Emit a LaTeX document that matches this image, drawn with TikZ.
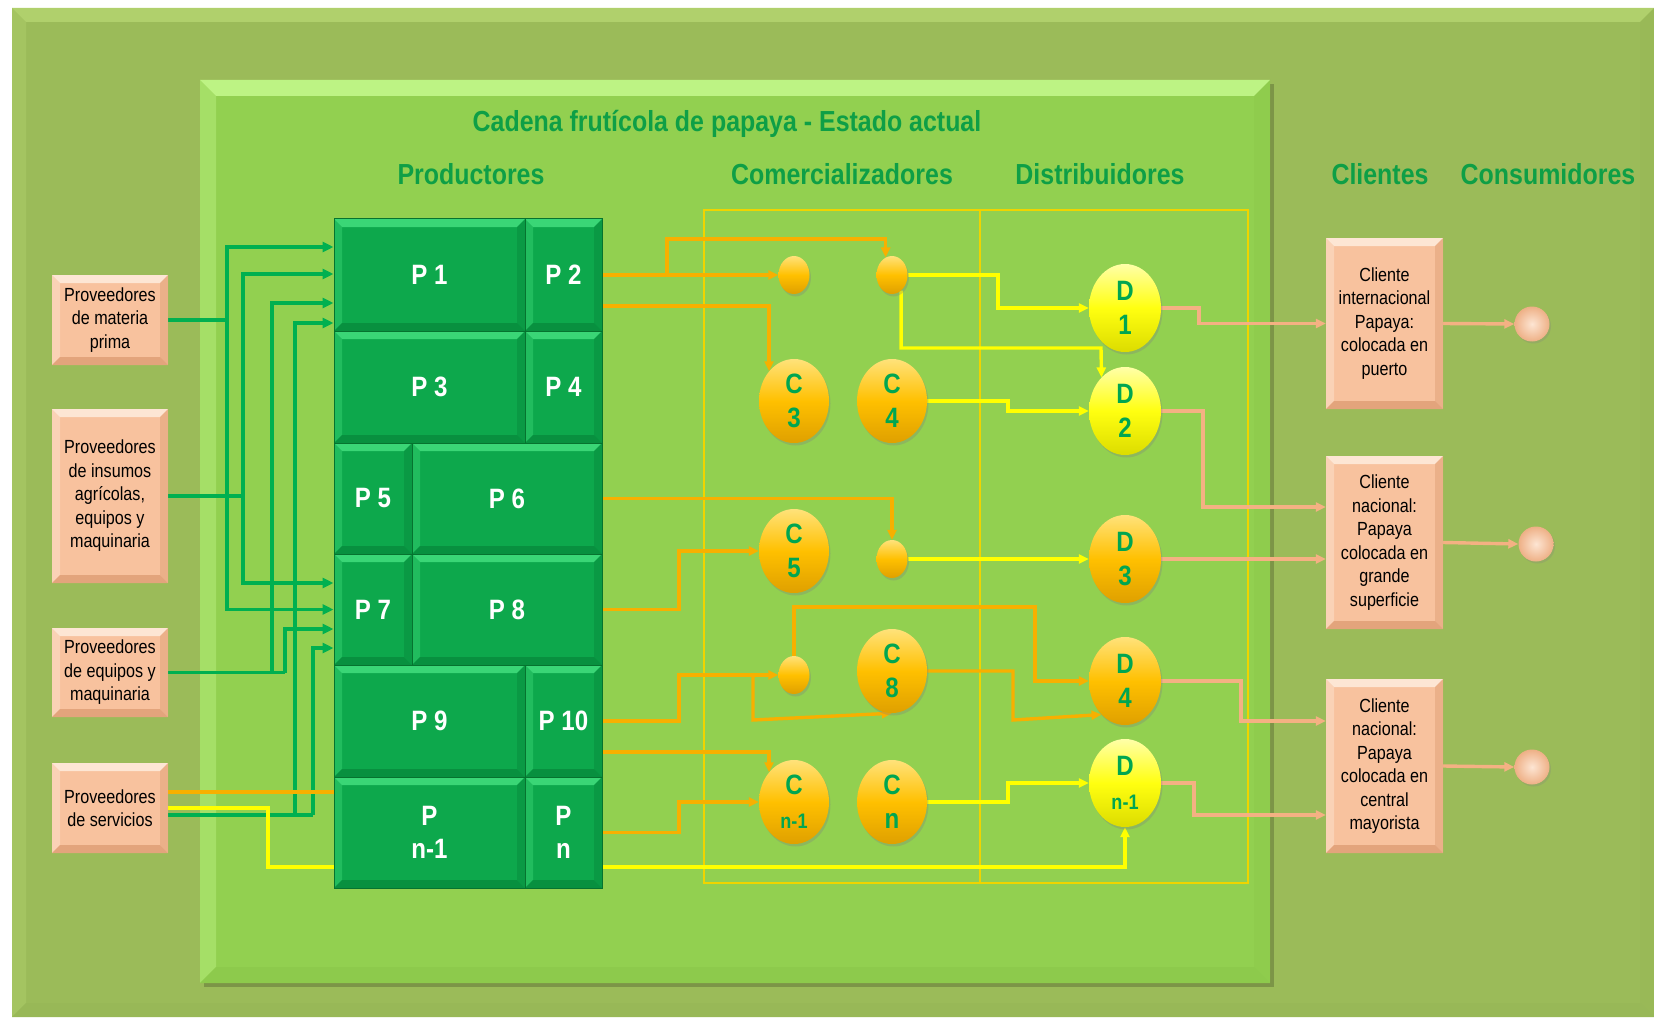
\documentclass[tikz,border=0pt]{standalone}
\usepackage{fontspec}
\setmainfont{Liberation Sans}
\newfontfamily\hfont[FakeStretch=0.86]{Liberation Sans}
\newfontfamily\bfont[FakeStretch=0.85]{Liberation Sans}
\usetikzlibrary{arrows.meta,shapes.geometric,shadows}
\definecolor{outerg}{HTML}{9BBB59}
\definecolor{outerlight}{HTML}{B0D06C}
\definecolor{outerdark}{HTML}{98B857}
\definecolor{innerg}{HTML}{92D050}
\definecolor{innerlight}{HTML}{BDF384}
\definecolor{innerdark}{HTML}{8DCA4C}
\definecolor{pgreen}{HTML}{0DA84C}
\definecolor{plight}{HTML}{3AD676}
\definecolor{pshade}{HTML}{08903F}
\definecolor{pdark}{HTML}{06732F}
\definecolor{salmon}{HTML}{F8C29E}
\definecolor{salmonlight}{HTML}{FDE6D4}
\definecolor{salmondark}{HTML}{E3A47C}
\definecolor{gold1}{HTML}{FFE27A}
\definecolor{gold2}{HTML}{FFC000}
\definecolor{gold3}{HTML}{DFA000}
\definecolor{yel1}{HTML}{FFFFA8}
\definecolor{yel2}{HTML}{FFFF10}
\definecolor{yel3}{HTML}{DCDC00}
\definecolor{headg}{HTML}{0E9F46}
\definecolor{labg}{HTML}{00A651}
\definecolor{wgreen}{HTML}{00B050}
\definecolor{worange}{HTML}{F7B000}
\definecolor{wyellow}{HTML}{FFFF00}
\definecolor{wpink}{HTML}{F4B183}
\definecolor{colbox}{HTML}{F0D400}
\definecolor{sph1}{HTML}{FDE5D3}
\definecolor{sph2}{HTML}{EEB086}
\pgfdeclarelayer{bg}
\pgfdeclarelayer{wires}
\pgfsetlayers{bg,wires,main}
\tikzset{
  bevel/.style n args={3}{path picture={
    \fill[#2] (path picture bounding box.north west) -- (path picture bounding box.north east)
      -- ([xshift=-#1,yshift=-#1]path picture bounding box.north east)
      -- ([xshift=#1,yshift=-#1]path picture bounding box.north west) -- cycle;
    \fill[#2,opacity=.45] (path picture bounding box.north west)
      -- ([xshift=#1,yshift=-#1]path picture bounding box.north west)
      -- ([xshift=#1,yshift=#1]path picture bounding box.south west)
      -- (path picture bounding box.south west) -- cycle;
    \fill[#3] (path picture bounding box.south west) -- (path picture bounding box.south east)
      -- ([xshift=-#1,yshift=#1]path picture bounding box.south east)
      -- ([xshift=#1,yshift=#1]path picture bounding box.south west) -- cycle;
    \fill[#3,opacity=.6] (path picture bounding box.north east)
      -- ([xshift=-#1,yshift=-#1]path picture bounding box.north east)
      -- ([xshift=-#1,yshift=#1]path picture bounding box.south east)
      -- (path picture bounding box.south east) -- cycle;
  }},
  pcell/.style={rectangle, inner sep=0pt, fill=pgreen, draw=pdark, line width=1pt,
    bevel={8pt}{plight}{pshade}, text=white, align=center,
    font=\hfont\bfseries\fontsize{28}{33}\selectfont},
  sbox/.style={rectangle, inner sep=0pt, fill=salmon, bevel={8pt}{salmonlight}{salmondark},
    text=black, align=center, font=\bfont\fontsize{19}{23.5}\selectfont},
  ellbase/.style={ellipse, inner sep=0pt,
    drop shadow={shadow xshift=1.5pt,shadow yshift=-2.5pt,opacity=.3},
    align=center, text=labg, font=\hfont\bfseries\fontsize{28}{34}\selectfont},
  goldell/.style={ellbase, top color=gold1, bottom color=gold3, middle color=gold2},
  yelell/.style={ellbase, top color=yel1, bottom color=yel3, middle color=yel2},
  cbig/.style={goldell, minimum width=70pt, minimum height=84pt},
  csmall/.style={goldell, minimum width=31pt, minimum height=38pt},
  dnode/.style={minimum width=72pt, minimum height=88pt},
  sphere/.style={circle, inner sep=0pt, minimum size=35pt, inner color=sph1, outer color=sph2,
    drop shadow={shadow xshift=1.5pt,shadow yshift=-2pt,opacity=.25}},
  head/.style={text=headg, font=\hfont\bfseries\fontsize{29}{34}\selectfont, inner sep=0pt},
  gw/.style={draw=wgreen, line width=3.6pt, -{Triangle[length=11pt,width=10pt]}},
  gline/.style={draw=wgreen, line width=3.6pt},
  ow/.style={draw=worange, line width=3.4pt, -{Triangle[length=10pt,width=9pt]}},
  oline/.style={draw=worange, line width=3.4pt},
  yw/.style={draw=wyellow, line width=3.4pt, -{Triangle[length=10pt,width=9pt]}},
  kw/.style={draw=wpink, line width=3.4pt, -{Triangle[length=10pt,width=9pt]}},
}
\begin{document}
\begin{tikzpicture}[x=1pt,y=-1pt]
\useasboundingbox (0,0) rectangle (1654,1019);
\begin{pgfonlayer}{bg}
  \fill[white] (0,0) rectangle (1654,1019);
  \path[fill=outerg, bevel={14pt}{outerlight}{outerdark}] (12,8) rectangle (1654,1017);
  \fill[black,opacity=.2] (204,84) rectangle (1274,987);
  \path[fill=innerg, bevel={16pt}{innerlight}{innerdark}] (200,80) rectangle (1270,983);
\end{pgfonlayer}

% headers
\node[head, anchor=base] (title) at (727,132) {Cadena frutícola de papaya - Estado actual};
\node[head, anchor=base] (hProd) at (471,185) {Productores};
\node[head, anchor=base] (hCom) at (842,185) {Comercializadores};
\node[head, anchor=base] (hDis) at (1100,185) {Distribuidores};
\node[head, anchor=base] (hCli) at (1380,185) {Clientes};
\node[head, anchor=base] (hCon) at (1548,185) {Consumidores};

% suppliers
\node[sbox, minimum width=116pt, minimum height=90pt] (Mat) at (110,320) {Proveedores\\de materia\\prima};
\node[sbox, minimum width=116pt, minimum height=174pt] (Ins) at (110,496) {Proveedores\\de insumos\\agrícolas,\\equipos y\\maquinaria};
\node[sbox, minimum width=116pt, minimum height=89pt] (Equ) at (110,672.5) {Proveedores\\de equipos y\\maquinaria};
\node[sbox, minimum width=116pt, minimum height=90pt] (Serv) at (110,808) {Proveedores\\de servicios};

% producers
\node[pcell, minimum width=191pt, minimum height=112pt] (P1) at (429.5,275) {P 1};
\node[pcell, minimum width=77pt, minimum height=112pt] (P2) at (563.5,275) {P 2};
\node[pcell, minimum width=191pt, minimum height=112pt] (P3) at (429.5,387) {P 3};
\node[pcell, minimum width=77pt, minimum height=112pt] (P4) at (563.5,387) {P 4};
\node[pcell, minimum width=78pt, minimum height=111pt] (P5) at (373,498.5) {P 5};
\node[pcell, minimum width=190pt, minimum height=111pt] (P6) at (507,498.5) {P 6};
\node[pcell, minimum width=78pt, minimum height=111pt] (P7) at (373,609.5) {P 7};
\node[pcell, minimum width=190pt, minimum height=111pt] (P8) at (507,609.5) {P 8};
\node[pcell, minimum width=191pt, minimum height=112pt] (P9) at (429.5,721) {P 9};
\node[pcell, minimum width=77pt, minimum height=112pt] (P10) at (563.5,721) {P 10};
\node[pcell, minimum width=191pt, minimum height=111pt] (Pn1) at (429.5,832.5) {P\\n-1};
\node[pcell, minimum width=77pt, minimum height=111pt] (Pn) at (563.5,832.5) {P\\n};

% commercializers
\node[csmall] (e1) at (794,275) {};
\node[csmall] (e2) at (892,275) {};
\node[cbig] (C3) at (794,401) {C\\3};
\node[cbig] (C4) at (892,401) {C\\4};
\node[cbig] (C5) at (794,551) {C\\5};
\node[csmall] (e3) at (892,559) {};
\node[csmall] (e4) at (794,675) {};
\node[cbig] (C8) at (892,671) {C\\8};
\node[cbig] (Cn1) at (794,802) {C\\{\fontsize{21}{21}\selectfont n-1}};
\node[cbig] (Cn) at (892,802) {C\\n};

% distributors
\node[yelell, dnode] (D1) at (1125,308) {D\\1};
\node[yelell, dnode] (D2) at (1125,411) {D\\2};
\node[goldell, dnode] (D3) at (1125,559) {D\\3};
\node[goldell, dnode] (D4) at (1125,681) {D\\4};
\node[yelell, dnode] (Dn1) at (1125,783) {D\\{\fontsize{21}{21}\selectfont n-1}};

% clients
\node[sbox, minimum width=117pt, minimum height=171pt] (Cl1) at (1384.5,323.5) {Cliente\\internacional\\Papaya:\\colocada en\\puerto};
\node[sbox, minimum width=117pt, minimum height=173pt] (Cl2) at (1384.5,542.5) {Cliente\\nacional:\\Papaya\\colocada en\\grande\\superficie};
\node[sbox, minimum width=117pt, minimum height=174pt] (Cl3) at (1384.5,766) {Cliente\\nacional:\\Papaya\\colocada en\\central\\mayorista};

% consumers
\node[sphere] (S1) at (1532,324) {};
\node[sphere] (S2) at (1536,544) {};
\node[sphere] (S3) at (1532,767) {};

\begin{pgfonlayer}{wires}
  \draw[colbox, line width=2.6pt] (704,210) rectangle (980,883);
  \draw[colbox, line width=2.6pt] (980,210) rectangle (1248,883);
  % green supply lines
  \draw[gline] (Mat.east) -- (227,320) coordinate (jm);
  \draw[gw] (jm) |- ([yshift=28pt]P1.west);
  \draw[gw] (jm) |- (P7.west);
  \draw[gline] (Ins.east) -- (243,496) coordinate (ji);
  \draw[gw] (ji) |- ([yshift=1pt]P1.west);
  \draw[gw] (ji) |- ([yshift=26.5pt]P7.west);
  \draw[gline] (Equ.east) -- (272,672.5) coordinate (je1) -- (285,672.5) coordinate (je2);
  \draw[gw] (je2) |- ([yshift=-19.5pt]P7.west);
  \draw[gw] (je1) |- ([yshift=-28pt]P1.west);
  \draw[gline] ([yshift=-7pt]Serv.east) -- (295,815) coordinate (js1) -- (313,815) coordinate (js2);
  \draw[gw] (js2) |- ([yshift=-38.5pt]P7.west);
  \draw[gw] (js1) |- ([yshift=-48pt]P1.west);
  % services orange and yellow
  \draw[oline] ([yshift=16pt]Serv.east) -- (Pn1.west |- 0,792);
  \draw[yw] (Serv.east) -- (268,808) -- (268,867) -| (Dn1.south);
  % orange producer outputs
  \draw[ow] (P2.east) -- (667,275) coordinate (jo1) -- (e1.west);
  \draw[ow] (jo1) -- (667,239) -| (e2.110);
  \draw[ow] ([yshift=-31pt]P2.east) -| (C3.130);
  \draw[ow] (P6.east) -| (e3.north);
  \draw[ow] (P8.east) -- (679,609.5) |- (C5.west);
  \draw[ow] (P10.east) -- (679,721) |- (753,675) coordinate (jo2) -- (e4.west);
  \draw[ow] (jo2) -- (753,720) -- (C8.south);
  \draw[ow] (e4.north) |- (1035,607) |- (D4.west);
  \draw[ow] (C8.east) -- (1013,671) -- (1013,720) -- (D4.235);
  \draw[ow] ([yshift=-31pt]P10.east) -| (Cn1.130);
  \draw[ow] (Pn.east) -- (679,832.5) |- (Cn1.west);
  % yellow
  \draw[yw] (e2.east) -- (998,275) |- (D1.west);
  \draw[yw] (e2.300) |- (1101,348) -- (D2.125);
  \draw[yw] (C4.east) -- (1008,401) |- (D2.west);
  \draw[yw] (e3.east) -- (D3.west);
  \draw[yw] (Cn.east) -- (1008,802) |- (Dn1.west);
  % pink to clients
  \draw[kw] (D1.east) -- (1199,308) |- (Cl1.west);
  \draw[kw] (D2.east) -- (1203,411) |- ([yshift=35.5pt]Cl2.west);
  \draw[kw] (D3.east) -- (D3.east -| Cl2.west);
  \draw[kw] (D4.east) -- (1241,681) |- ([yshift=45pt]Cl3.west);
  \draw[kw] (Dn1.east) -- (1194,783) |- ([yshift=-49pt]Cl3.west);
  \draw[kw] (Cl1.east) -- (S1.west);
  \draw[kw] (Cl2.east) -- (S2.west);
  \draw[kw] (Cl3.east) -- (S3.west);
\end{pgfonlayer}
\end{tikzpicture}
\end{document}
